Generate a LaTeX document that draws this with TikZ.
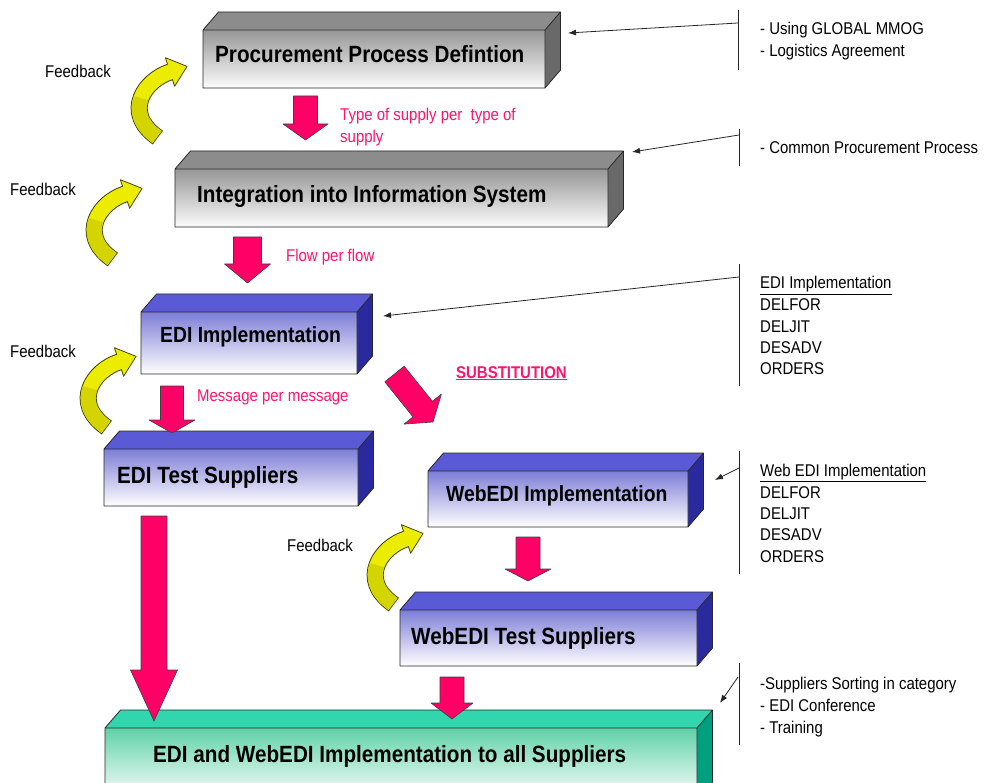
\documentclass[tikz,border=0pt]{standalone}
\usepackage{fontspec}
\setmainfont{Liberation Sans}[FakeStretch=0.88]
\usetikzlibrary{arrows.meta}
\definecolor{pinkfill}{RGB}{255,0,102}
\definecolor{pinktxt}{RGB}{255,20,110}
\definecolor{fbyellow}{RGB}{236,236,0}
\definecolor{fbdark}{RGB}{212,212,0}
\definecolor{fbedge}{RGB}{70,70,0}
\definecolor{boxedge}{RGB}{40,40,40}
\definecolor{gtop}{RGB}{140,140,140}
\definecolor{gside}{RGB}{105,105,105}
\definecolor{gfa}{RGB}{150,150,150}
\definecolor{gfb}{RGB}{225,225,225}
\definecolor{gfc}{RGB}{252,252,252}
\definecolor{btop}{RGB}{90,90,214}
\definecolor{bside}{RGB}{42,42,158}
\definecolor{bfa}{RGB}{125,125,215}
\definecolor{bfb}{RGB}{218,218,243}
\definecolor{bfc}{RGB}{255,255,255}
\definecolor{ctop}{RGB}{50,214,174}
\definecolor{cside}{RGB}{0,160,126}
\definecolor{cfa}{RGB}{95,210,168}
\definecolor{cfb}{RGB}{205,242,228}
\definecolor{cfc}{RGB}{255,255,255}
\newcommand\cuboid[9]{%
  \fill[#5] (#1,#2) -- (#1+15.5,#2-18) -- (#3+15.5,#2-18) -- (#3,#2) -- cycle;
  \fill[#6] (#3,#2) -- (#3+15.5,#2-18) -- (#3+15.5,#4-18) -- (#3,#4) -- cycle;
  \shade[top color=#7, middle color=#8, bottom color=#9] (#1,#2) rectangle (#3,#4);
  \draw[boxedge, line width=0.8pt] (#1,#2) -- (#1+15.5,#2-18) -- (#3+15.5,#2-18) -- (#3+15.5,#4-18) -- (#3,#4) -- (#1,#4) -- cycle
     (#1,#2) -- (#3,#2) -- (#3+15.5,#2-18) (#3,#2) -- (#3,#4);
}
\newcommand\pinkdown[6]{%
  \filldraw[fill=pinkfill, draw=black!75, line width=0.6pt]
    (#1-#4,#2) -- (#1+#4,#2) -- (#1+#4,#3-#6) -- (#1+#5,#3-#6) -- (#1,#3)
    -- (#1-#5,#3-#6) -- (#1-#4,#3-#6) -- cycle;
}
\newcommand\fbarrow[2]{%
  \begin{scope}[shift={(#1,#2)}]
    \draw[line width=17pt, fbedge] (157.8,137.6) -- (157,137) .. controls (122,112) and (145,80) .. (170,72);
    \filldraw[fill=fbyellow, draw=fbedge, line width=0.8pt] (174.6,86.3) -- (187.1,66.4) -- (165.4,57.7) -- cycle;
    \draw[line width=15pt, fbyellow] (157,137) .. controls (122,112) and (145,80) .. (170,72) -- (171.5,71.5);
    \draw[line width=15pt, fbdark] (157,137) .. controls (139.5,124.5) and (136.5,110.25) .. (141,98.1);
  \end{scope}
}
\begin{document}
\begin{tikzpicture}[x=1pt,y=-1pt, line join=round,
  boxtxt/.style={font=\bfseries\fontsize{23.5}{26}\selectfont, inner sep=0pt, anchor=base west},
  boxtxts/.style={font=\bfseries\fontsize{22}{26}\selectfont, inner sep=0pt, anchor=base west},
  sidetxt/.style={font=\fontsize{17}{20}\selectfont, inner sep=0pt, anchor=base west},
  pinklabel/.style={font=\fontsize{17}{20}\selectfont, inner sep=0pt, anchor=base west, text=pinktxt},
  callout/.style={draw=black!85, line width=0.8pt, -{Latex[length=8pt,width=6pt]}},
  vbar/.style={draw=black!85, line width=0.9pt}]
\useasboundingbox (0,0) rectangle (984,783);

% boxes
\cuboid{203}{30}{545}{88}{gtop}{gside}{gfa}{gfb}{gfc}
\cuboid{175}{169}{608}{227}{gtop}{gside}{gfa}{gfb}{gfc}
\cuboid{141}{312}{357}{374}{btop}{bside}{bfa}{bfb}{bfc}
\cuboid{104}{449}{358}{506}{btop}{bside}{bfa}{bfb}{bfc}
\cuboid{428}{471}{688}{527}{btop}{bside}{bfa}{bfb}{bfc}
\cuboid{400}{610}{697}{666}{btop}{bside}{bfa}{bfb}{bfc}
\cuboid{105}{728}{697}{800}{ctop}{cside}{cfa}{cfb}{cfc}

% box texts
\node[boxtxt] (b1) at (215,63) {Procurement Process Defintion};
\node[boxtxt] (b2) at (197,203) {Integration into Information System};
\node[boxtxts] (b3) at (160,342) {EDI Implementation};
\node[boxtxt] (b4) at (117,483) {EDI Test Suppliers};
\node[boxtxts] (b5) at (446,501) {WebEDI Implementation};
\node[boxtxt] (b6) at (411,644) {WebEDI Test Suppliers};
\node[boxtxt] (b7) at (153,762) {EDI and WebEDI Implementation to all Suppliers};

% pink block arrows
\pinkdown{305.5}{96}{140}{12}{22.5}{16}
\pinkdown{247.5}{237}{283}{14}{23}{19}
\pinkdown{172}{386}{433}{11.5}{23}{13}
\pinkdown{528}{537}{581}{12}{23}{12}
\pinkdown{452}{677}{719}{12}{21}{16}
\pinkdown{154}{516}{721}{13}{23.5}{51}
\filldraw[fill=pinkfill, draw=black!75, line width=0.6pt]
  (384.8,381.8) -- (404.2,366.2) -- (432.4,401.3) -- (441.4,394.1) -- (433.0,422.0)
  -- (404.0,424.1) -- (413.0,416.9) -- cycle;

% pink labels
\node[pinklabel] (p1) at (340,121) {Type of supply per~ type of};
\node[pinklabel] (p1b) at (340,143) {supply};
\node[pinklabel] (p2) at (286,262) {Flow per flow};
\node[pinklabel] (p3) at (197,401) {Message per message};
\node[pinklabel, font=\bfseries\fontsize{17}{20}\selectfont] (sub) at (456,378) {\underline{SUBSTITUTION}};

% feedback arrows
\fbarrow{0}{0}
\fbarrow{-45}{122}
\fbarrow{-51}{290}
\fbarrow{236}{467}
\node[sidetxt] (f1) at (45,78) {Feedback};
\node[sidetxt] (f2) at (10,196) {Feedback};
\node[sidetxt] (f3) at (10,357) {Feedback};
\node[sidetxt] (f4) at (287,551) {Feedback};

% right-hand notes
\coordinate (l1a) at (738,10);  \coordinate (l1b) at (738,70);
\coordinate (l2a) at (739,129); \coordinate (l2b) at (739,166);
\coordinate (l3a) at (739,264); \coordinate (l3b) at (739,386);
\coordinate (l4a) at (739,451); \coordinate (l4b) at (739,574);
\coordinate (l5a) at (739,663); \coordinate (l5b) at (739,745);
\draw[vbar] (l1a) -- (l1b);
\draw[vbar] (l2a) -- (l2b);
\draw[vbar] (l3a) -- (l3b);
\draw[vbar] (l4a) -- (l4b);
\draw[vbar] (l5a) -- (l5b);

\coordinate (a1s) at (738,23);  \coordinate (a1e) at (568,33);
\coordinate (a2s) at (739,135); \coordinate (a2e) at (632,152);
\coordinate (a3s) at (739,277); \coordinate (a3e) at (383,316);
\coordinate (a4s) at (739,468); \coordinate (a4e) at (715,480);
\coordinate (a5s) at (738,677); \coordinate (a5e) at (720,703);
\draw[callout] (a1s) -- (a1e);
\draw[callout] (a2s) -- (a2e);
\draw[callout] (a3s) -- (a3e);
\draw[callout] (a4s) -- (a4e);
\draw[callout] (a5s) -- (a5e);

\node[sidetxt] (n1) at (760,35) {- Using GLOBAL MMOG};
\node[sidetxt] (n2) at (760,57) {- Logistics Agreement};
\node[sidetxt] (n3) at (760,154) {- Common Procurement Process};
\node[sidetxt] (e0) at (760,289) {\underline{EDI Implementation}};
\node[sidetxt] (e1) at (760,310) {DELFOR};
\node[sidetxt] (e2) at (760,332) {DELJIT};
\node[sidetxt] (e3) at (760,353) {DESADV};
\node[sidetxt] (e4) at (760,374) {ORDERS};
\node[sidetxt] (w0) at (760,476) {\underline{Web EDI Implementation}};
\node[sidetxt] (w1) at (760,498) {DELFOR};
\node[sidetxt] (w2) at (760,519) {DELJIT};
\node[sidetxt] (w3) at (760,540) {DESADV};
\node[sidetxt] (w4) at (760,562) {ORDERS};
\node[sidetxt] (s1) at (760,689) {-Suppliers Sorting in category};
\node[sidetxt] (s2) at (760,711) {- EDI Conference};
\node[sidetxt] (s3) at (760,733) {- Training};
\end{tikzpicture}
\end{document}
